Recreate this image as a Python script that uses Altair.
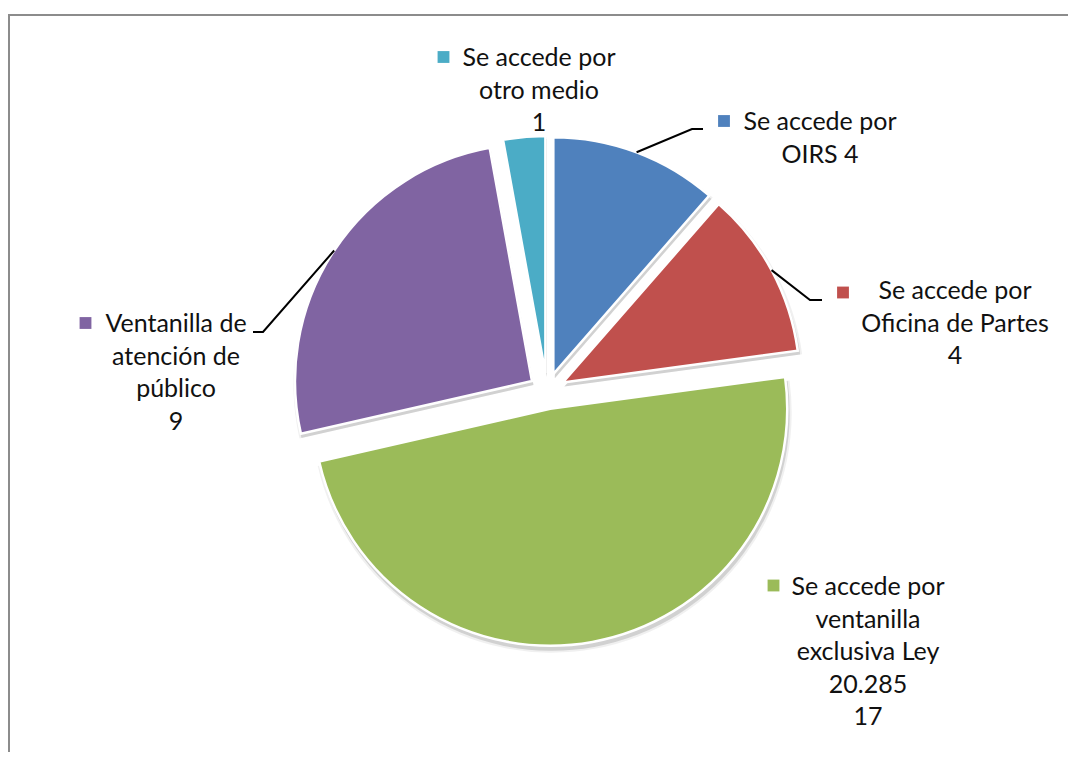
import altair as alt
import pandas as pd
import numpy as np

# ---- data ----
categories = [
    "Se accede por OIRS",
    "Se accede por Oficina de Partes",
    "Se accede por ventanilla exclusiva Ley 20.285",
    "Ventanilla de atención de público",
    "Se accede por otro medio",
]
values = [4, 4, 17, 9, 1]
colors = ["#4F81BD", "#C0504D", "#9BBB59", "#8064A2", "#4BACC6"]
label_lines = [
    ["Se accede por", f"OIRS {values[0]}"],
    ["Se accede por", "Oficina de Partes", f"{values[1]}"],
    ["Se accede por", "ventanilla", "exclusiva Ley", "20.285", f"{values[2]}"],
    ["Ventanilla de", "atención de", "público", f"{values[3]}"],
    ["Se accede por", "otro medio", f"{values[4]}"],
]

# ---- layout (pixels in chart space) ----
W, H = 1060, 744
CX, CY = 539, 383
R = 237
EXPLODE = 18
FONT = "Lato"
FS = 25
label_pos = [(812, 122), (947, 291), (860, 587), (168, 324), (531, 58)]
key_pos = [(716, 113), (835, 284.5), (765.5, 577.5), (77.5, 315), (435.5, 49)]
leader_elbow = {0: [(684, 121), (695, 121)], 1: [(802, 292), (814, 292)], 3: [(255, 324), (245, 324)]}

df = pd.DataFrame({"cat": categories, "value": values, "order": list(range(len(values)))})

base = (
    alt.Chart(df)
    .transform_window(cum="sum(value)", sort=[alt.SortField("order")], frame=[None, 0])
    .transform_joinaggregate(total="sum(value)")
    .transform_calculate(
        t0="2*PI*(datum.cum-datum.value)/datum.total",
        t1="2*PI*datum.cum/datum.total",
    )
    .transform_calculate(mid="(datum.t0+datum.t1)/2")
    .transform_calculate(
        px=f"{CX}+{EXPLODE}*sin(datum.mid)",
        py=f"{CY}-{EXPLODE}*cos(datum.mid)",
    )
    .transform_calculate(sx="datum.px+1.5", sy="datum.py+4")
)

color_scale = alt.Scale(domain=categories, range=colors)

shadow = base.mark_arc(outerRadius=R + 1, color="#000000", opacity=0.13).encode(
    theta=alt.Theta("t0:Q", scale=None),
    theta2="t1:Q",
    x=alt.X("sx:Q", scale=None, axis=None),
    y=alt.Y("sy:Q", scale=None, axis=None),
)
shadow2 = base.mark_arc(outerRadius=R + 3, color="#000000", opacity=0.06).encode(
    theta=alt.Theta("t0:Q", scale=None),
    theta2="t1:Q",
    x=alt.X("sx:Q", scale=None, axis=None),
    y=alt.Y("sy:Q", scale=None, axis=None),
)

arcs = base.mark_arc(outerRadius=R, stroke="white", strokeWidth=2.5).encode(
    theta=alt.Theta("t0:Q", scale=None),
    theta2="t1:Q",
    x=alt.X("px:Q", scale=None, axis=None),
    y=alt.Y("py:Q", scale=None, axis=None),
    color=alt.Color("cat:N", scale=color_scale, legend=None),
)

# labels
lab_df = pd.DataFrame({
    "cat": categories,
    "text": label_lines,
    "lx": [p[0] for p in label_pos],
    "ly": [p[1] for p in label_pos],
    "kx": [p[0] for p in key_pos],
    "ky": [p[1] for p in key_pos],
})
labels = alt.Chart(lab_df).mark_text(
    font=FONT, fontSize=FS, color="#111111", align="center", baseline="alphabetic", lineHeight=32.5
).encode(
    x=alt.X("lx:Q", scale=None, axis=None),
    y=alt.Y("ly:Q", scale=None, axis=None),
    text="text",
)
keys = alt.Chart(lab_df).mark_square(size=140, opacity=1).encode(
    x=alt.X("kx:Q", scale=None, axis=None),
    y=alt.Y("ky:Q", scale=None, axis=None),
    color=alt.Color("cat:N", scale=color_scale, legend=None),
)

# leader lines: start at the middle of each slice's outer arc
total = sum(values)
cum = np.cumsum(values)
rows = []
for i, pts in leader_elbow.items():
    mid = 2 * np.pi * (cum[i] - values[i] / 2) / total
    ax = CX + EXPLODE * np.sin(mid) + R * np.sin(mid)
    ay = CY - EXPLODE * np.cos(mid) - R * np.cos(mid)
    seq = [(ax, ay)] + pts
    for k, (x, y) in enumerate(seq):
        rows.append({"id": i, "k": k, "x": x, "y": y})
lead_df = pd.DataFrame(rows)
leaders = alt.Chart(lead_df).mark_line(color="#000000", strokeWidth=2).encode(
    x=alt.X("x:Q", scale=None, axis=None),
    y=alt.Y("y:Q", scale=None, axis=None),
    detail="id:N",
    order="k:Q",
)

# chart frame (top and left edges visible)
dummy = pd.DataFrame({"a": [0]})
frame_left = alt.Chart(dummy).mark_rule(color="#8c8c8c", strokeWidth=2).encode(
    x=alt.value(1), y=alt.value(7), y2=alt.value(H)
)
frame_top = alt.Chart(dummy).mark_rule(color="#8c8c8c", strokeWidth=2).encode(
    x=alt.value(0), x2=alt.value(W), y=alt.value(7)
)

chart = (
    alt.layer(frame_left, frame_top, shadow2, shadow, arcs, leaders, keys, labels)
    .properties(width=W, height=H, padding=0, autosize="none", background="white")
    .configure_view(stroke=None)
)

chart.save("out.html", embed_options={"renderer": "svg", "actions": False})
